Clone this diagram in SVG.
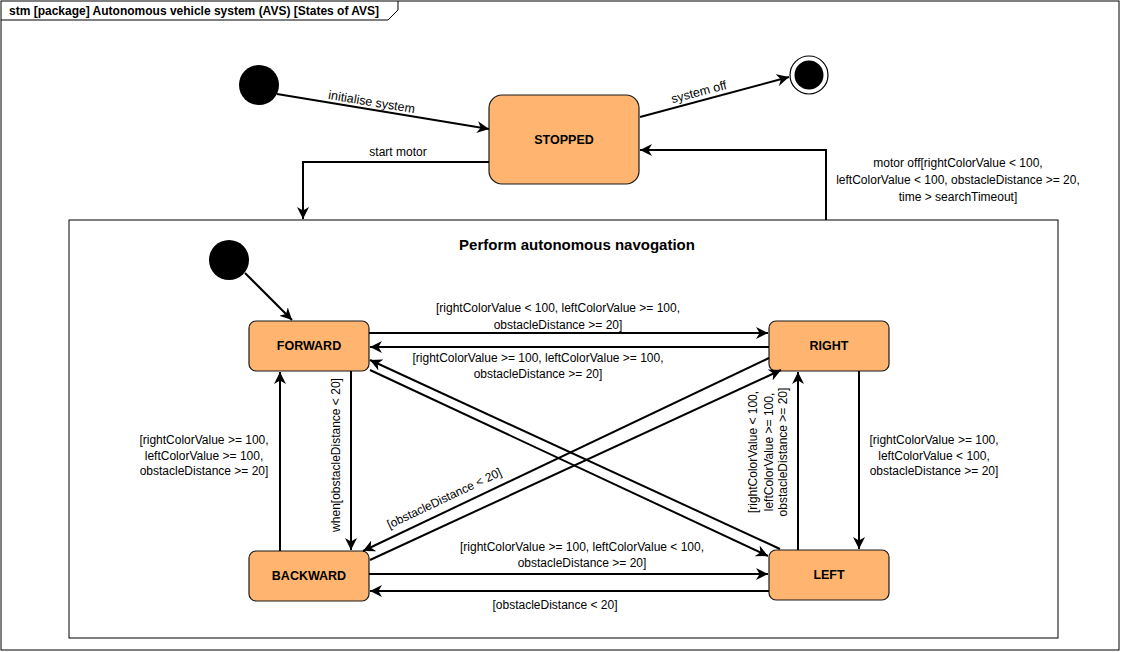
<svg xmlns="http://www.w3.org/2000/svg" width="1121" height="652" viewBox="0 0 1121 652">
<style>
.st{fill:#FFB570;stroke:#1a1a1a;stroke-width:1.2}
.sl{font-family:"Liberation Sans",Arial,sans-serif;font-size:12.5px;font-weight:bold;fill:#000;text-anchor:middle}
.lb{font-family:"Liberation Sans",Arial,sans-serif;font-size:12px;fill:#000;text-anchor:middle}
.e{fill:none;stroke:#000;stroke-width:2;marker-end:url(#arr)}
</style>
<defs>
<marker id="arr" viewBox="0 0 10 10" refX="10" refY="5" markerWidth="12" markerHeight="12" orient="auto" markerUnits="userSpaceOnUse">
<path d="M0,0 L10,5 L0,10 L3,5 z" fill="#000"/>
</marker>
</defs>
<rect x="0" y="0" width="1121" height="652" fill="#fff"/>
<g id="frame">
<rect x="1" y="1" width="1118" height="649" fill="none" stroke="#000" stroke-width="1"/>
<path d="M1,20 H388 L398,10 V1" fill="none" stroke="#000" stroke-width="1"/>
<text x="9" y="15" font-family="Liberation Sans,Arial,sans-serif" font-size="12px" font-weight="bold">stm [package] Autonomous vehicle system (AVS) [States of AVS]</text>
</g>
<g id="composite">
<rect x="69" y="220" width="989" height="418" fill="none" stroke="#000" stroke-width="1"/>
<text x="577" y="250" class="sl" style="font-size:15px">Perform autonomous navogation</text>
</g>
<g id="initial"><circle cx="259" cy="85" r="20" fill="#000"/></g>
<g id="final"><circle cx="809" cy="75" r="19" fill="#fff" stroke="#000" stroke-width="1.2"/><circle cx="809" cy="75" r="14.5" fill="#000"/></g>
<g id="initial2"><circle cx="229" cy="260" r="20" fill="#000"/></g>
<g id="stopped"><rect class="st" x="489" y="95" width="150" height="89" rx="13"/><text class="sl" x="564" y="144">STOPPED</text></g>
<g id="forward"><rect class="st" x="249" y="321" width="120" height="50" rx="7"/><text class="sl" x="309" y="350">FORWARD</text></g>
<g id="right"><rect class="st" x="769" y="321" width="120" height="50" rx="7"/><text class="sl" x="829" y="350">RIGHT</text></g>
<g id="backward"><rect class="st" x="249" y="551" width="120" height="50" rx="7"/><text class="sl" x="309" y="580">BACKWARD</text></g>
<g id="left"><rect class="st" x="769" y="550" width="120" height="50" rx="7"/><text class="sl" x="829" y="579">LEFT</text></g>
<g id="connectors">
<path class="e" d="M277,94 L489,129"/>
<text class="lb" transform="translate(371,106) rotate(9.4)" style="font-size:12.5px">initialise system</text>
<path class="e" d="M640,117 L789,77"/>
<text class="lb" transform="translate(700,96) rotate(-14.8)" style="font-size:12.5px">system off</text>
<path class="e" d="M489,162 H303 V219"/>
<text class="lb" x="398" y="156">start motor</text>
<path class="e" d="M826,220 V150 H640"/>
<text class="lb" x="958" y="167">motor off[rightColorValue &lt; 100,</text>
<text class="lb" x="958" y="184">leftColorValue &lt; 100, obstacleDistance &gt;= 20,</text>
<text class="lb" x="958" y="201">time &gt; searchTimeout]</text>
<path class="e" d="M245,273 L292,320"/>
<path class="e" d="M369,333 H768"/>
<text class="lb" x="558" y="312">[rightColorValue &lt; 100, leftColorValue &gt;= 100,</text>
<text class="lb" x="558" y="329">obstacleDistance &gt;= 20]</text>
<path class="e" d="M769,347 H370"/>
<text class="lb" x="538" y="362">[rightColorValue &gt;= 100, leftColorValue &gt;= 100,</text>
<text class="lb" x="538" y="378">obstacleDistance &gt;= 20]</text>
<path class="e" d="M780,549 L370,360"/>
<path class="e" d="M370,370 L768,556"/>
<path class="e" d="M370,560 L781,370"/>
<path class="e" d="M769,358 L363,551"/>
<text class="lb" transform="translate(446,502) rotate(-25.4)">[obstacleDistance &lt; 20]</text>
<path class="e" d="M351,371 V550"/>
<text class="lb" transform="translate(340,455) rotate(-90)">when[obstacleDistance &lt; 20]</text>
<path class="e" d="M280,551 V372"/>
<text class="lb" x="204" y="444">[rightColorValue &gt;= 100,</text>
<text class="lb" x="204" y="460">leftColorValue &gt;= 100,</text>
<text class="lb" x="204" y="475">obstacleDistance &gt;= 20]</text>
<path class="e" d="M798,550 V372"/>
<text class="lb" transform="translate(757,452) rotate(-90)">[rightColorValue &lt; 100,</text>
<text class="lb" transform="translate(773,452) rotate(-90)">leftColorValue &gt;= 100,</text>
<text class="lb" transform="translate(787,452) rotate(-90)">obstacleDistance &gt;= 20]</text>
<path class="e" d="M859,371 V549"/>
<text class="lb" x="934" y="444">[rightColorValue &gt;= 100,</text>
<text class="lb" x="934" y="460">leftColorValue &lt; 100,</text>
<text class="lb" x="934" y="475">obstacleDistance &gt;= 20]</text>
<path class="e" d="M369,574 H768"/>
<text class="lb" x="582" y="551">[rightColorValue &gt;= 100, leftColorValue &lt; 100,</text>
<text class="lb" x="582" y="567">obstacleDistance &gt;= 20]</text>
<path class="e" d="M769,591 H370"/>
<text class="lb" x="555" y="609">[obstacleDistance &lt; 20]</text>
</g>
</svg>
